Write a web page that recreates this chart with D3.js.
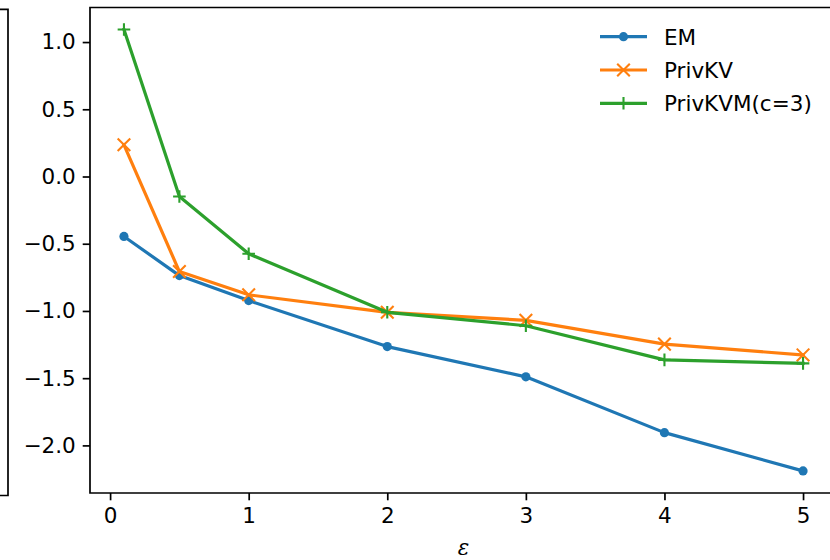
<!DOCTYPE html>
<html>
<head>
<meta charset="utf-8">
<script src="https://cdn.jsdelivr.net/npm/d3@7"></script>
<style>
  body { margin: 0; background: #fff; }
  text { font-family: "DejaVu Sans", sans-serif; }
</style>
</head>
<body>
<svg id="chart" width="830" height="560"></svg>
<script>
// data
const eps = [0.1, 0.5, 1, 2, 3, 4, 5];
const emVals = [-0.446, -0.737, -0.923, -1.265, -1.49, -1.905, -2.19];
const privkvVals = [0.236, -0.707, -0.88, -1.01, -1.07, -1.247, -1.327];
const privkvmVals = [1.093, -0.149, -0.575, -1.01, -1.11, -1.364, -1.39];
const xTicks = [0, 1, 2, 3, 4, 5];
const yTicks = [1.0, 0.5, 0.0, -0.5, -1.0, -1.5, -2.0];

const seriesList = [
    { name: "EM", values: emVals, color: "#1f77b4", marker: "dot" },
    { name: "PrivKV", values: privkvVals, color: "#ff7f0e", marker: "x" },
    { name: "PrivKVM(c=3)", values: privkvmVals, color: "#2ca02c", marker: "plus" }
];

const svg = d3.select("#chart");
const plotLeft = 90, plotRight = 837, plotTop = 7.5, plotBottom = 493;
const fontSize = 21.5;

const x = d3.scaleLinear().domain([-0.145, 5.245]).range([plotLeft, plotRight]);
const y = d3.scaleLinear().domain([-2.354, 1.257]).range([plotBottom, plotTop]);

// edge of the neighbouring panel on the left
svg.append("path")
    .attr("d", "M-2,9.3H8V495.5H-2")
    .attr("fill", "none")
    .attr("stroke", "#000")
    .attr("stroke-width", 1.7);

// axes
const fmtY = d => d3.format(".1f")(d).replace("-", "\u2212");
const yAxis = svg.append("g")
    .attr("transform", `translate(${plotLeft},0)`)
    .call(d3.axisLeft(y).tickValues(yTicks).tickFormat(fmtY).tickSize(7.3).tickPadding(7));
const xAxis = svg.append("g")
    .attr("transform", `translate(0,${plotBottom})`)
    .call(d3.axisBottom(x).tickValues(xTicks).tickFormat(d3.format("d")).tickSize(7.3).tickPadding(7));

[xAxis, yAxis].forEach(g => {
    g.select(".domain").remove();
    g.selectAll(".tick line").attr("stroke", "#000").attr("stroke-width", 1.7);
    g.selectAll(".tick text")
        .attr("fill", "#000")
        .style("font-size", fontSize + "px")
        .style("font-family", "DejaVu Sans");
});

// spines (left, top, bottom; right is outside the picture)
svg.append("path")
    .attr("d", `M${plotRight},${plotTop}H${plotLeft}V${plotBottom}H${plotRight}`)
    .attr("fill", "none")
    .attr("stroke", "#000")
    .attr("stroke-width", 1.7);

// x label
svg.append("text")
    .attr("x", (plotLeft + plotRight) / 2)
    .attr("y", 555)
    .attr("text-anchor", "middle")
    .style("font-size", fontSize + "px")
    .style("font-style", "italic")
    .style("font-family", "DejaVu Serif")
    .text("\u03b5");

function drawMarker(g, cx, cy, kind, color) {
    if (kind === "dot") {
        g.append("circle").attr("cx", cx).attr("cy", cy).attr("r", 4.6).attr("fill", color);
    } else if (kind === "x") {
        const s = 6.3;
        g.append("path")
            .attr("d", `M${cx - s},${cy - s}L${cx + s},${cy + s}M${cx - s},${cy + s}L${cx + s},${cy - s}`)
            .attr("stroke", color).attr("stroke-width", 2.1).attr("fill", "none");
    } else {
        const s = 6.3;
        g.append("path")
            .attr("d", `M${cx - s},${cy}L${cx + s},${cy}M${cx},${cy - s}L${cx},${cy + s}`)
            .attr("stroke", color).attr("stroke-width", 2.1).attr("fill", "none");
    }
}

const line = d3.line().x(d => x(d[0])).y(d => y(d[1]));
const plot = svg.append("g");

seriesList.forEach(s => {
    const pts = eps.map((e, i) => [e, s.values[i]]);
    plot.append("path")
        .datum(pts)
        .attr("d", line)
        .attr("fill", "none")
        .attr("stroke", s.color)
        .attr("stroke-width", 3.2)
        .attr("stroke-linejoin", "round")
        .attr("stroke-linecap", "square");
    pts.forEach(p => drawMarker(plot, x(p[0]), y(p[1]), s.marker, s.color));
});

// legend
const legend = svg.append("g");
seriesList.forEach((s, i) => {
    const ly = 36.7 + i * 33.3;
    legend.append("line")
        .attr("x1", 600).attr("x2", 647)
        .attr("y1", ly).attr("y2", ly)
        .attr("stroke", s.color).attr("stroke-width", 3.2);
    drawMarker(legend, 623.5, ly, s.marker, s.color);
    legend.append("text")
        .attr("x", 664)
        .attr("y", ly + 7.8)
        .style("font-size", fontSize + "px")
        .text(s.name);
});
</script>
</body>
</html>
